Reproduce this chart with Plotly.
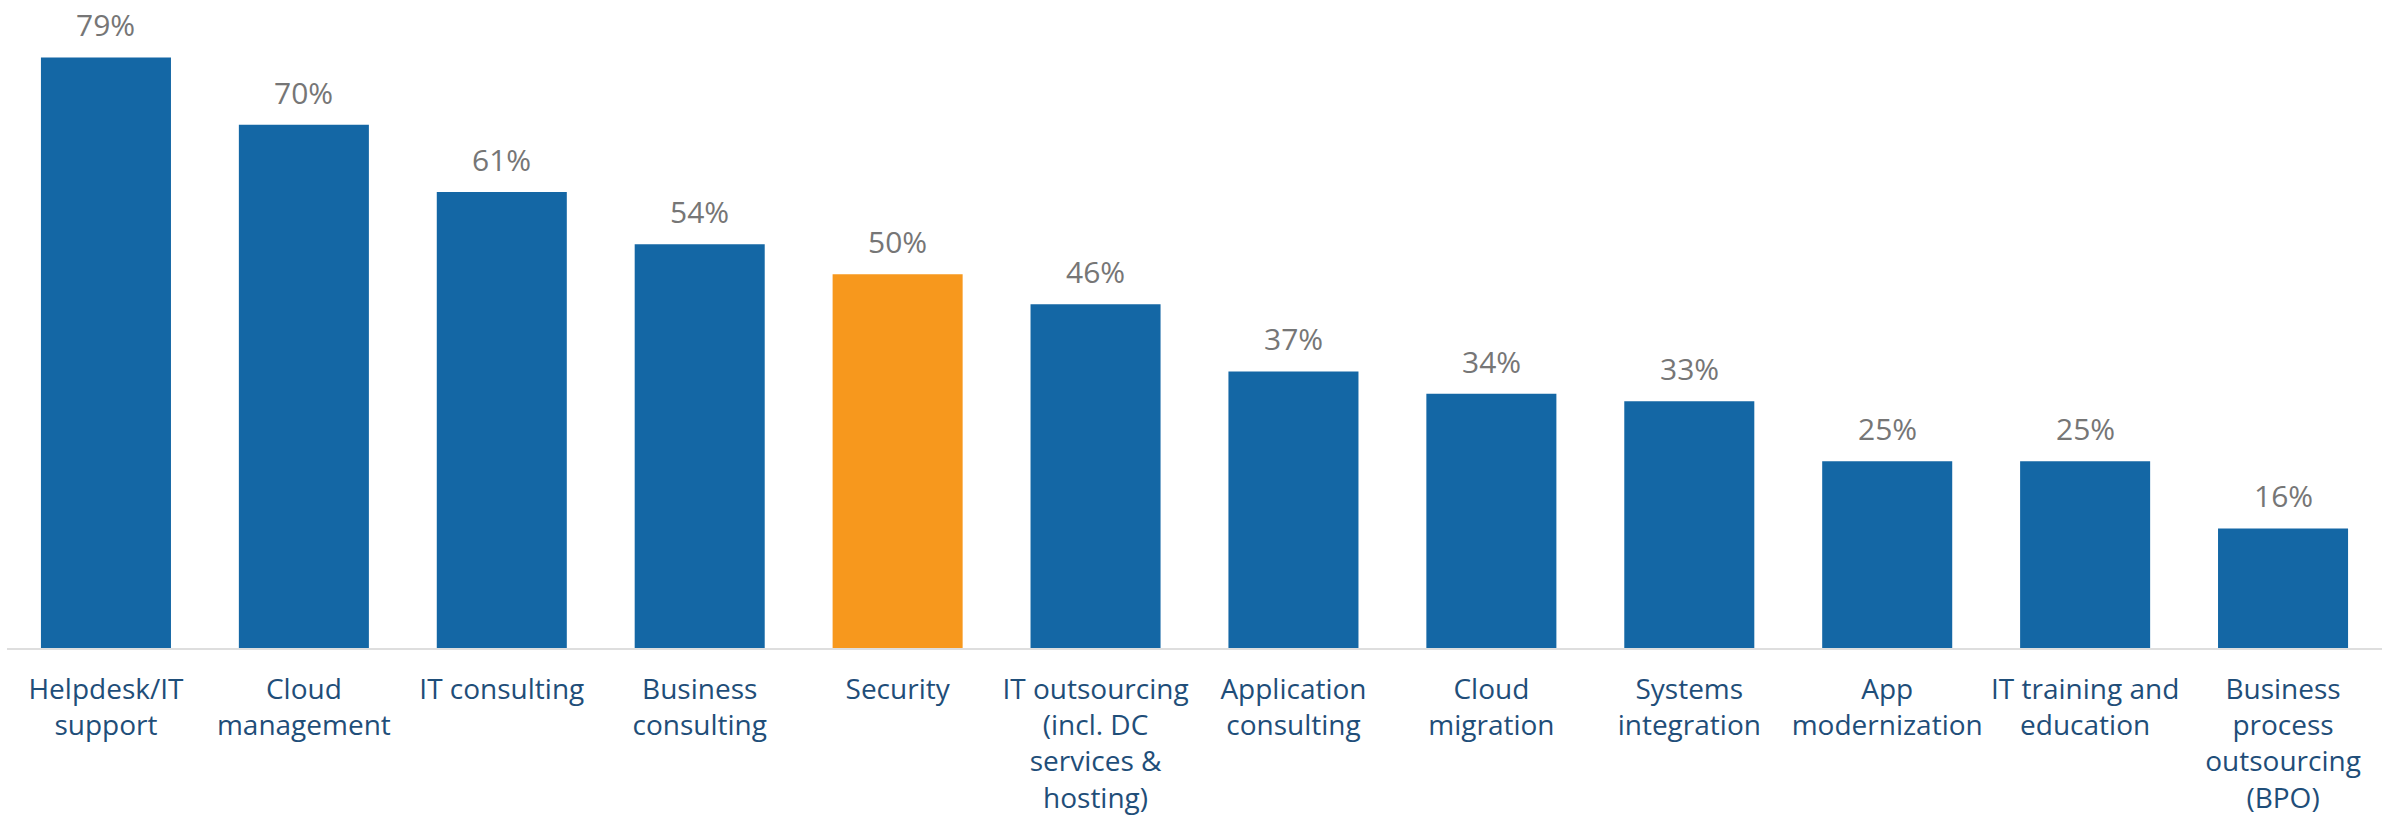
import plotly.graph_objects as go

categories = [
    "Helpdesk/IT<br>support",
    "Cloud<br>management",
    "IT consulting",
    "Business<br>consulting",
    "Security",
    "IT outsourcing<br>(incl. DC<br>services &<br>hosting)",
    "Application<br>consulting",
    "Cloud<br>migration",
    "Systems<br>integration",
    "App<br>modernization",
    "IT training and<br>education",
    "Business<br>process<br>outsourcing<br>(BPO)",
]
values = [79, 70, 61, 54, 50, 46, 37, 34, 33, 25, 25, 16]
highlight = "Security"

BLUE = "#1467a5"
ORANGE = "#f7981d"
colors = [ORANGE if c == highlight else BLUE for c in categories]

fig = go.Figure(
    go.Bar(
        x=categories,
        y=values,
        marker=dict(color=colors, line=dict(width=0)),
        hoverinfo="skip",
    )
)

# percentage labels above each bar
for c, v in zip(categories, values):
    fig.add_annotation(
        x=c, y=v, text=f"{v}%", showarrow=False,
        yanchor="bottom", yshift=10,
        font=dict(family="Open Sans", size=30, color="#767676"),
    )

fig.update_layout(
    width=2389, height=818,
    margin=dict(l=6.5, r=6.5, t=50, b=169.7),
    paper_bgcolor="white", plot_bgcolor="white",
    bargap=0.343,
    showlegend=False,
    font=dict(family="Open Sans"),
)
fig.update_xaxes(
    automargin=False,
    showline=True, linecolor="#dedede", linewidth=2,
    showgrid=False, ticks="", ticklabelstandoff=15,
    tickfont=dict(family="Open Sans", size=28, color="#1f4e79"),
)
fig.update_yaxes(range=[0, 80], visible=False, showgrid=False, zeroline=False)

fig.write_html("out.html")
